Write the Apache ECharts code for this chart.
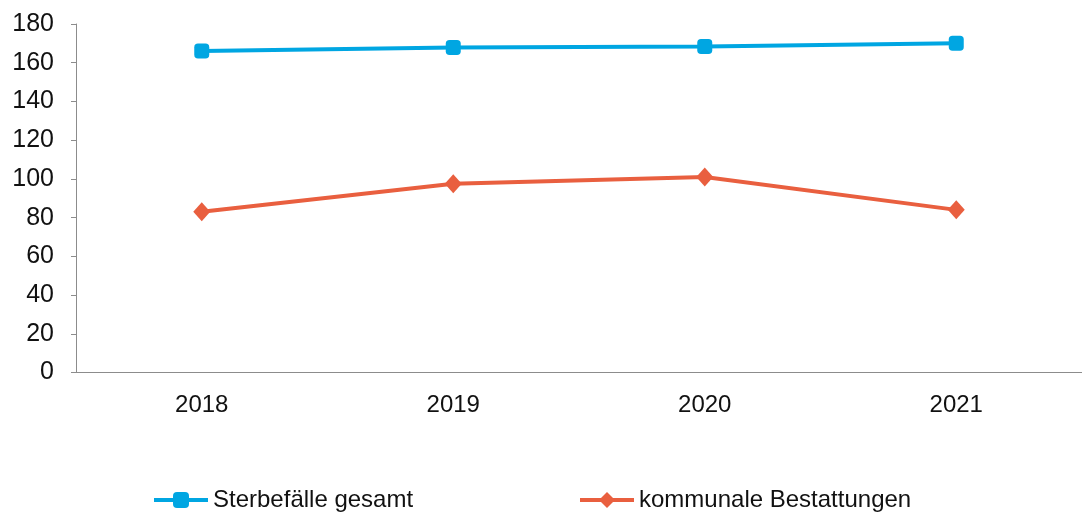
<!DOCTYPE html>
<html>
<head>
<meta charset="utf-8">
<script src="https://cdn.jsdelivr.net/npm/echarts@6/dist/echarts.min.js"></script>
<style>
  html, body { margin: 0; padding: 0; background: #fff; }
  #chart { width: 1082px; height: 515px; }
</style>
</head>
<body>
<div id="chart"></div>
<script>
// Years on the category axis
const years = ['2018', '2019', '2020', '2021'];
// Total deaths per year
const sterbefaelle = [166, 167.8, 168.4, 170];
// Municipal burials per year
const kommunal = [83, 97.5, 101, 84];

const FONT = 'Liberation Sans, Arial, sans-serif';
const AXIS_GREY = '#8c8c8c';
const BLUE = '#00a6e2';
const RED = '#e95f3f';

const legendBase = {
  top: 483,
  itemWidth: 54, itemHeight: 20, itemGap: 6,
  lineStyle: { width: 4 },
  textStyle: { fontFamily: FONT, fontSize: 24, color: '#111' }
};

const chart = echarts.init(document.getElementById('chart'));
chart.setOption({
  animation: false,
  backgroundColor: '#ffffff',
  textStyle: { fontFamily: FONT },
  grid: { left: 76, top: 24, bottom: 142.5, right: -9, containLabel: false },
  legend: [
    Object.assign({ data: ['Sterbefälle gesamt'], left: 147 }, legendBase),
    Object.assign({ data: ['kommunale Bestattungen'], left: 573 }, legendBase)
  ],
  xAxis: {
    type: 'category',
    data: years,
    boundaryGap: true,
    axisLine: { lineStyle: { color: AXIS_GREY, width: 1 } },
    axisTick: { inside: true, length: 8, lineStyle: { color: AXIS_GREY } },
    axisLabel: { margin: 21, fontSize: 24, color: '#111', fontFamily: FONT },
    splitLine: { show: false }
  },
  yAxis: {
    type: 'value',
    min: 0, max: 180, interval: 20,
    axisLine: { show: true, lineStyle: { color: AXIS_GREY, width: 1 } },
    axisTick: { show: true, length: 5, lineStyle: { color: AXIS_GREY } },
    axisLabel: { margin: 22, fontSize: 25, color: '#111', fontFamily: FONT },
    splitLine: { show: false }
  },
  series: [
    {
      name: 'Sterbefälle gesamt',
      type: 'line',
      data: sterbefaelle,
      symbol: 'roundRect',
      symbolSize: 15,
      color: BLUE,
      lineStyle: { width: 4, color: BLUE },
      itemStyle: { color: BLUE }
    },
    {
      name: 'kommunale Bestattungen',
      type: 'line',
      data: kommunal,
      symbol: 'diamond',
      symbolSize: [17, 19],
      color: RED,
      lineStyle: { width: 4, color: RED },
      itemStyle: { color: RED }
    }
  ]
});
</script>
</body>
</html>
